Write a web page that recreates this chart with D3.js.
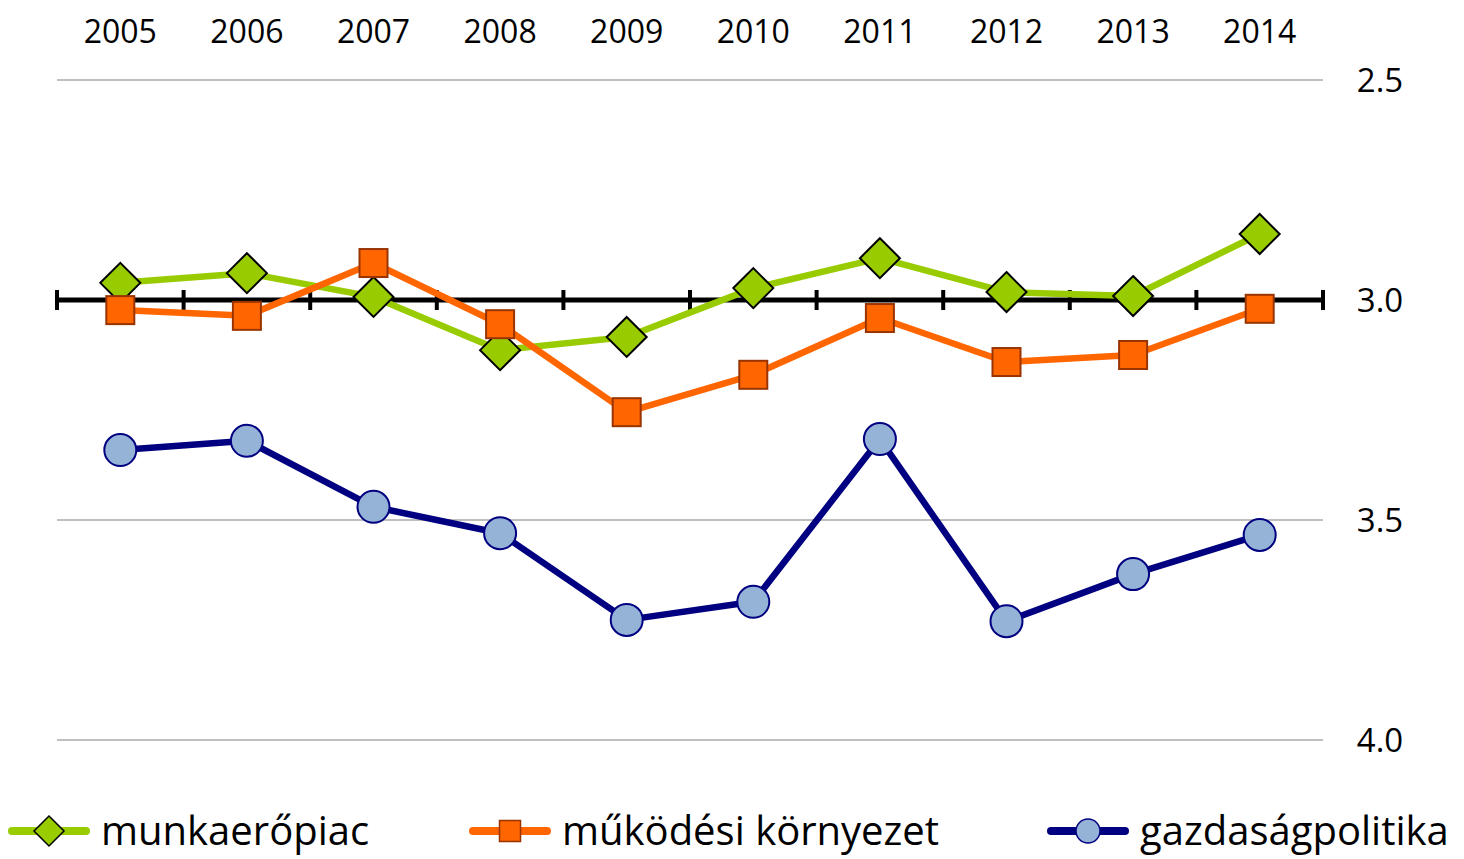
<!DOCTYPE html>
<html>
<head>
<meta charset="utf-8">
<script src="https://cdn.jsdelivr.net/npm/d3@7"></script>
<style>
  body { margin: 0; background: #fff; }
  text { font-family: "Open Sans", "Noto Sans", sans-serif; fill: #000; }
</style>
</head>
<body>
<div id="chart"></div>
<script>
// data
var years = ["2005", "2006", "2007", "2008", "2009", "2010", "2011", "2012", "2013", "2014"];
var munkaeropiac = [2.961, 2.939, 2.993, 3.114, 3.084, 2.973, 2.905, 2.982, 2.991, 2.850];
var mukodesi = [3.023, 3.036, 2.916, 3.055, 3.255, 3.170, 3.041, 3.141, 3.125, 3.020];
var gazdasag = [3.341, 3.320, 3.470, 3.530, 3.727, 3.686, 3.316, 3.730, 3.623, 3.534];
var yTicks = [2.5, 3.0, 3.5, 4.0];

var seriesNames = ["munkaerőpiac", "működési környezet", "gazdaságpolitika"];

function draw() {
    var svgWidth = 1464;
    var svgHeight = 859;

    var svg = d3.select("#chart")
        .append("svg")
        .attr("width", svgWidth)
        .attr("height", svgHeight);

    var x = d3.scaleBand()
        .domain(years)
        .range([57, 1323]);

    // reversed axis: 2.5 at the top
    var y = d3.scaleLinear()
        .domain([2.5, 4.0])
        .range([80, 740]);

    // gridlines
    svg.append("g")
        .selectAll("line")
        .data(yTicks.filter(d => d !== 3.0))
        .enter()
        .append("line")
        .attr("x1", 57)
        .attr("x2", 1323)
        .attr("y1", d => y(d))
        .attr("y2", d => y(d))
        .attr("stroke", "#808080")
        .attr("stroke-width", 1);

    // y labels on the right
    svg.append("g")
        .selectAll("text")
        .data(yTicks)
        .enter()
        .append("text")
        .attr("x", 1380)
        .attr("y", d => y(d))
        .attr("dy", "0.35em")
        .attr("text-anchor", "middle")
        .attr("font-size", 33)
        .text(d => d.toFixed(1));

    // year labels on top
    svg.append("g")
        .selectAll("text")
        .data(years)
        .enter()
        .append("text")
        .attr("x", d => x(d) + x.bandwidth() / 2)
        .attr("y", 32)
        .attr("dy", "0.35em")
        .attr("text-anchor", "middle")
        .attr("font-size", 32)
        .text(d => d);

    // category axis crossing at 3.0
    var xAxis = d3.axisBottom(x).tickSize(0).tickFormat("");
    var axisG = svg.append("g")
        .attr("transform", `translate(0, ${y(3.0)})`)
        .call(xAxis);
    axisG.select(".domain")
        .attr("stroke", "#000")
        .attr("stroke-width", 5)
        .attr("d", "M57,0H1323");
    var bounds = years.map(d => x(d)).concat([x.range()[1]]);
    axisG.selectAll(".bound")
        .data(bounds)
        .enter()
        .append("line")
        .attr("class", "bound")
        .attr("x1", d => d)
        .attr("x2", d => d)
        .attr("y1", -10)
        .attr("y2", 10)
        .attr("stroke", "#000")
        .attr("stroke-width", 4);

    var cx = d => x(d) + x.bandwidth() / 2;

    var series = [
        {name: seriesNames[0], values: munkaeropiac, line: "#99cc00", fill: "#99cc00", stroke: "#000", shape: "diamond"},
        {name: seriesNames[1], values: mukodesi, line: "#ff6600", fill: "#ff6600", stroke: "#993300", shape: "square"},
        {name: seriesNames[2], values: gazdasag, line: "#000080", fill: "#95b3d7", stroke: "#000080", shape: "circle"}
    ];

    var line = d3.line()
        .x(d => cx(d.year))
        .y(d => y(d.value));

    function marker(g, s) {
        if (s.shape === "diamond") {
            var h = 20;
            g.append("path")
                .attr("d", `M0,${-h}L${h},0L0,${h}L${-h},0Z`)
                .attr("fill", s.fill)
                .attr("stroke", s.stroke)
                .attr("stroke-width", 2);
        } else if (s.shape === "square") {
            g.append("rect")
                .attr("x", -14).attr("y", -14)
                .attr("width", 28).attr("height", 28)
                .attr("fill", s.fill)
                .attr("stroke", s.stroke)
                .attr("stroke-width", 2);
        } else {
            g.append("circle")
                .attr("r", 16)
                .attr("fill", s.fill)
                .attr("stroke", s.stroke)
                .attr("stroke-width", 2);
        }
    }

    series.forEach(function(s) {
        var pts = years.map((yr, i) => ({year: yr, value: s.values[i]}));
        svg.append("path")
            .datum(pts)
            .attr("d", line)
            .attr("fill", "none")
            .attr("stroke", s.line)
            .attr("stroke-width", 6.5)
            .attr("stroke-linejoin", "round");
        pts.forEach(function(p) {
            var g = svg.append("g")
                .attr("transform", `translate(${cx(p.year)}, ${y(p.value)})`);
            marker(g, s);
        });
    });

    // legend
    var legendX = [12, 473, 1051];
    series.forEach(function(s, i) {
        var lg = svg.append("g")
            .attr("transform", `translate(${legendX[i]}, 831)`);
        lg.append("line")
            .attr("x1", 0).attr("x2", 74)
            .attr("y1", 0).attr("y2", 0)
            .attr("stroke", s.line)
            .attr("stroke-width", 8)
            .attr("stroke-linecap", "round");
        var mg = lg.append("g").attr("transform", "translate(37,0) scale(0.75)");
        marker(mg, s);
        lg.append("text")
            .attr("x", 89)
            .attr("y", 0)
            .attr("dy", "0.35em")
            .attr("font-size", 40)
            .text(s.name);
    });
}

draw();
</script>
</body>
</html>
